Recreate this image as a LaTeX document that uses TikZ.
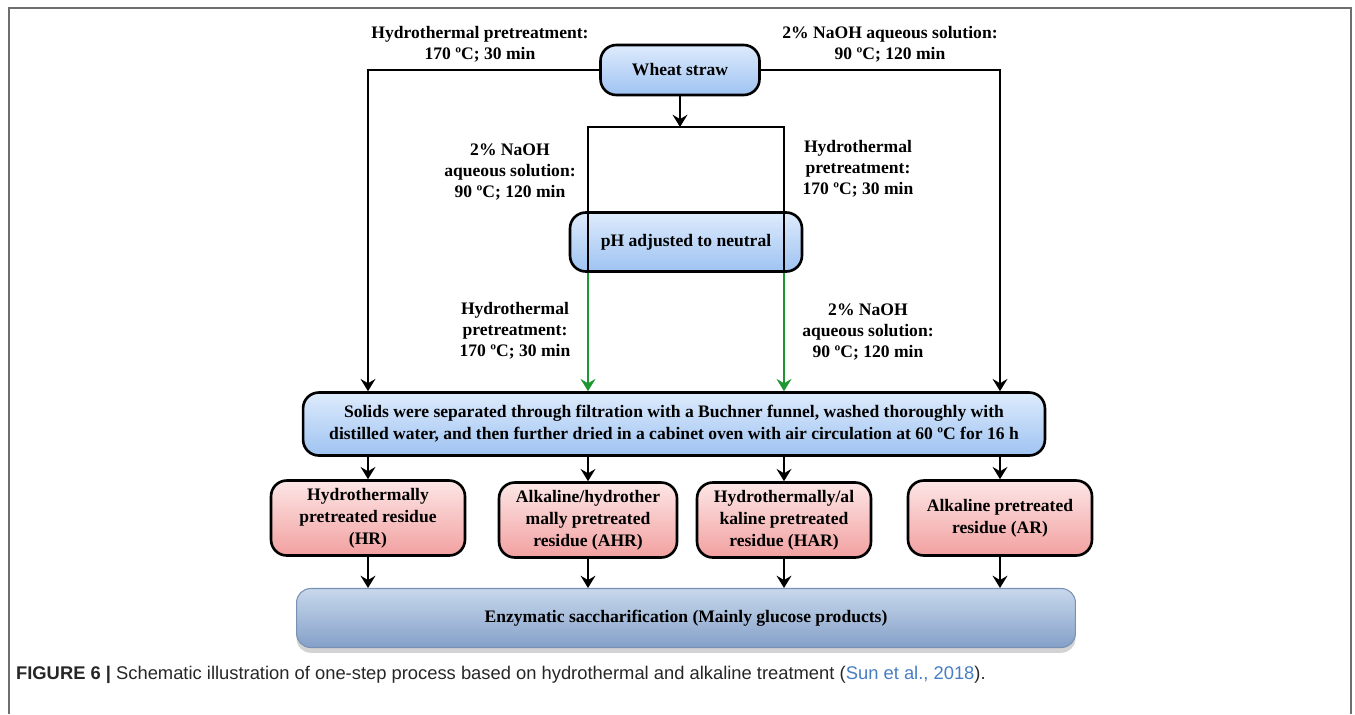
\documentclass[tikz,border=0pt]{standalone}
\usepackage{fontspec}
\setmainfont{Liberation Serif}
\newfontfamily\capfont{Liberation Sans}
\usetikzlibrary{arrows.meta,shadows}

\definecolor{bluetop}{RGB}{222,235,252}
\definecolor{bluebot}{RGB}{158,195,242}
\definecolor{pinktop}{RGB}{253,230,230}
\definecolor{pinkbot}{RGB}{242,160,160}
\definecolor{steeltop}{RGB}{200,216,236}
\definecolor{steelbot}{RGB}{132,160,200}
\definecolor{steelline}{RGB}{120,145,180}
\definecolor{flowgreen}{RGB}{30,150,50}
\definecolor{framegray}{RGB}{110,110,110}
\definecolor{linkblue}{RGB}{70,125,195}

\begin{document}
\begin{tikzpicture}[x=0.02cm,y=-0.02cm,
                    >={Stealth[length=7pt,width=8.5pt,inset=2.5pt]},
                    line width=1.3pt,
                    txt/.style={font=\bfseries\fontsize{10}{12.5}\selectfont,align=center},
                    cond/.style={txt,inner sep=0pt,font=\bfseries\fontsize{10}{11.9}\selectfont},
                    bluebox/.style={txt,draw,line width=1.5pt,rounded corners=9pt,
                                    top color=bluetop,bottom color=bluebot},
                    pinkbox/.style={txt,draw,line width=1.5pt,rounded corners=9pt,
                                    top color=pinktop,bottom color=pinkbot},
                    enzbox/.style={txt,draw=steelline,line width=0.6pt,rounded corners=8pt,
                                   top color=steeltop,bottom color=steelbot,
                                   drop shadow={shadow xshift=0pt,shadow yshift=-3pt,opacity=0.35}}]

  \useasboundingbox (0,0) rectangle (1355,714);

  % frame
  \draw[framegray,line width=1pt] (9,714) -- (9,8) -- (1351,8) -- (1351,714);

  % boxes
  \node[bluebox,minimum width=3.18cm,minimum height=1cm] (wheat) at (680,70) {Wheat straw};
  \node[bluebox,minimum width=4.64cm,minimum height=1.18cm] (ph) at (686,242) {pH adjusted to neutral};
  \node[bluebox,minimum width=14.84cm,minimum height=1.26cm] (filt) at (674,424)
    {Solids were separated through filtration with a Buchner funnel, washed thoroughly with\\
     distilled water, and then further dried in a cabinet oven with air circulation at 60 ºC for 16 h};

  \node[pinkbox,minimum width=3.88cm,minimum height=1.5cm] (hr)  at (368,518)
    {Hydrothermally\\pretreated residue\\(HR)};
  \node[pinkbox,minimum width=3.56cm,minimum height=1.5cm] (ahr) at (588,520)
    {Alkaline/hydrother\\mally pretreated\\residue (AHR)};
  \node[pinkbox,minimum width=3.48cm,minimum height=1.5cm] (har) at (784,520)
    {Hydrothermally/al\\kaline pretreated\\residue (HAR)};
  \node[pinkbox,minimum width=3.68cm,minimum height=1.5cm] (ar)  at (1000,518)
    {Alkaline pretreated\\residue (AR)};

  \node[enzbox,minimum width=15.58cm,minimum height=1.18cm] (enz) at (686,618)
    {Enzymatic saccharification (Mainly glucose products)};

  % conditions
  \node[cond] (c1) at (480,44) {Hydrothermal pretreatment:\\170 ºC; 30 min};
  \node[cond] (c2) at (890,44) {2\% NaOH aqueous solution:\\90 ºC; 120 min};
  \node[cond] (c3) at (510,172) {2\% NaOH\\aqueous solution:\\90 ºC; 120 min};
  \node[cond] (c4) at (858,169) {Hydrothermal\\pretreatment:\\170 ºC; 30 min};
  \node[cond] (c5) at (515,331) {Hydrothermal\\pretreatment:\\170 ºC; 30 min};
  \node[cond] (c6) at (868,332) {2\% NaOH\\aqueous solution:\\90 ºC; 120 min};

  % outer routes
  \draw[->] (wheat.west) -| (hr.north |- filt.north);
  \draw[->] (wheat.east) -| (ar.north |- filt.north);

  % two-step route
  \coordinate (tl) at (588,127);
  \coordinate (tr) at (784,127);
  \draw[->] (wheat.south) -- (wheat.south |- tl);
  \draw (tl |- ph.south) -- (tl) -- (tr) -- (tr |- ph.south);
  \draw[->,flowgreen] (tl |- ph.south) -- (tl |- filt.north);
  \draw[->,flowgreen] (tr |- ph.south) -- (tr |- filt.north);

  % residues
  \foreach \r in {hr,ahr,har,ar} {
    \draw[->] (\r.north |- filt.south) -- (\r.north);
    \draw[->] (\r.south) -- (\r.south |- enz.north);
  }

  % caption
  \node[anchor=base west,inner sep=0pt,font=\capfont\fontsize{10.45}{12}\selectfont,text=black!85] (cap) at (15,679)
    {\textbf{FIGURE 6 |} Schematic illustration of one-step process based on hydrothermal and alkaline treatment (\textcolor{linkblue}{Sun et al., 2018}).};
\end{tikzpicture}
\end{document}
